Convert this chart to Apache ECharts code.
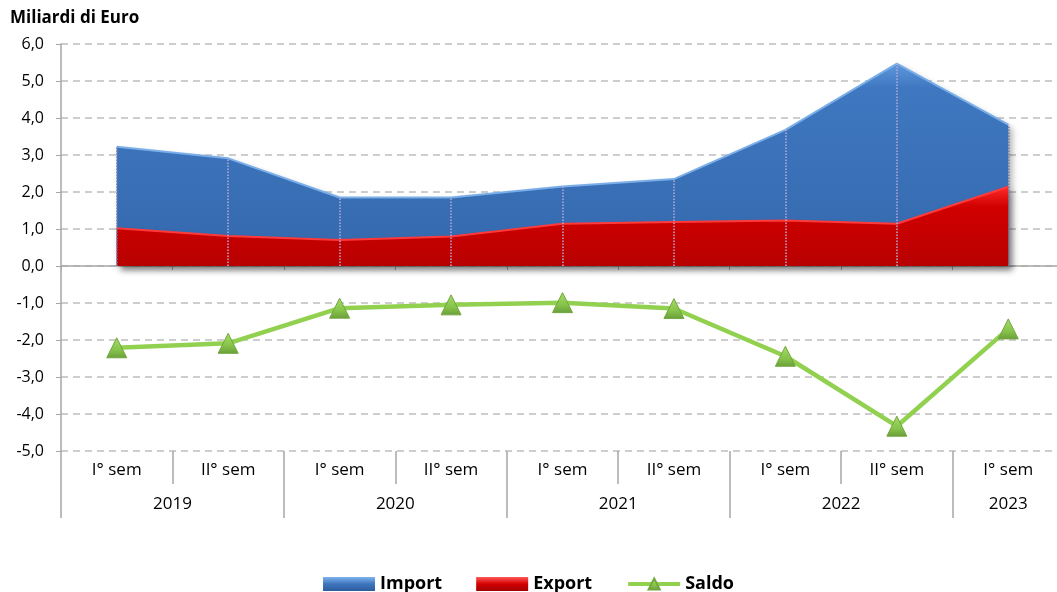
<!DOCTYPE html>
<html>
<head>
<meta charset="utf-8">
<script src="https://cdn.jsdelivr.net/npm/echarts@6/dist/echarts.min.js"></script>
<style>
  html, body { margin: 0; padding: 0; background: #fff; }
  #chart { width: 1057px; height: 592px; }
</style>
</head>
<body>
<div id="chart"></div>
<script>
// Semester categories and the years they belong to
const semesters = ['I° sem', 'II° sem', 'I° sem', 'II° sem', 'I° sem', 'II° sem', 'I° sem', 'II° sem', 'I° sem'];
const years = ['2019', '2020', '2021', '2022', '2023'];
const yearSpans = [2, 2, 2, 2, 1]; // number of semesters in each year

// Values in billions of euro
const importValues = [3.22, 2.91, 1.85, 1.85, 2.15, 2.35, 3.68, 5.47, 3.82];
const exportValues = [1.02, 0.81, 0.70, 0.80, 1.14, 1.19, 1.23, 1.14, 2.14];
const saldoValues  = [-2.21, -2.09, -1.14, -1.05, -0.99, -1.15, -2.44, -4.33, -1.70];

// Y axis range
const yMin = -5, yMax = 6, yStep = 1;

const FONT = '"Open Sans", Lato, sans-serif';
const AXIS_GREY = '#a6a6a6';

// Year boundaries and centres along the semester scale
const yearBounds = [0];
yearSpans.forEach(s => yearBounds.push(yearBounds[yearBounds.length - 1] + s));
const yearMids = yearSpans.map((s, i) => yearBounds[i] + s / 2);
const totalSemesters = yearBounds[yearBounds.length - 1];

const chart = echarts.init(document.getElementById('chart'), null, { renderer: 'canvas' });

const grad = (stops) => new echarts.graphic.LinearGradient(0, 0, 0, 1, stops);

const option = {
  animation: false,
  backgroundColor: '#ffffff',
  textStyle: { fontFamily: FONT },
  graphic: [{
    type: 'text',
    left: 10,
    top: 10,
    style: { text: 'Miliardi di Euro', font: 'bold 17px ' + FONT, fill: '#000' }
  }],
  legend: {
    top: 570,
    left: 'center',
    itemWidth: 52,
    itemHeight: 14,
    itemGap: 34,
    textStyle: { fontSize: 18, fontWeight: 'bold', color: '#000', fontFamily: FONT },
    data: [
      { name: 'Import', icon: 'rect' },
      { name: 'Export', icon: 'rect' },
      { name: 'Saldo', lineStyle: { width: 4 } }
    ]
  },
  // the last category band runs past the right edge of the canvas
  grid: { left: 61, width: 1003, top: 44, bottom: 141, containLabel: false, outerBoundsMode: 'none' },
  xAxis: [
    {
      // zero line carrying the data
      type: 'category',
      data: semesters,
      boundaryGap: true,
      axisLine: { show: true, onZero: true, lineStyle: { color: AXIS_GREY, width: 1.5 } },
      axisTick: { show: true, interval: 0, length: 4, lineStyle: { color: AXIS_GREY } },
      axisLabel: { show: false },
      splitLine: { show: false }
    },
    {
      // semester labels along the bottom
      type: 'category',
      data: semesters,
      position: 'bottom',
      boundaryGap: true,
      axisLine: { show: false, onZero: false },
      axisTick: { show: true, interval: 0, length: 33, lineStyle: { color: AXIS_GREY, width: 1.5 } },
      axisLabel: { interval: 0, margin: 11, fontSize: 17, color: '#000', fontFamily: FONT },
      splitLine: { show: false }
    },
    {
      // year labels spanning their semesters
      type: 'value',
      min: 0,
      max: totalSemesters,
      position: 'bottom',
      axisLine: { show: false, onZero: false },
      axisTick: { show: true, customValues: yearBounds, length: 67, lineStyle: { color: AXIS_GREY, width: 1.5 } },
      axisLabel: {
        customValues: yearMids,
        formatter: v => years[yearMids.indexOf(v)],
        margin: 45, fontSize: 17, color: '#000', fontFamily: FONT
      },
      splitLine: { show: false }
    }
  ],
  yAxis: {
    type: 'value',
    min: yMin,
    max: yMax,
    interval: yStep,
    axisLine: { show: true, lineStyle: { color: AXIS_GREY, width: 1.5 } },
    axisTick: { show: true, length: 5, lineStyle: { color: AXIS_GREY } },
    axisLabel: {
      formatter: v => v.toFixed(1).replace('.', ','),
      fontSize: 16, color: '#000', margin: 17, fontFamily: FONT
    },
    splitLine: { show: true, lineStyle: { type: [7, 5], color: '#bdbdbd', width: 1.5 } }
  },
  series: [
    {
      name: 'Import',
      type: 'line',
      xAxisIndex: 0,
      data: importValues,
      symbol: 'none',
      z: 2,
      itemStyle: { color: grad([{ offset: 0, color: '#7fb3ee' }, { offset: 0.5, color: '#3d75bd' }, { offset: 1, color: '#2d5c9c' }]) },
      lineStyle: { color: '#7aaee8', width: 2 },
      areaStyle: {
        color: grad([
          { offset: 0, color: '#5e97dc' },
          { offset: 0.12, color: '#3f78c0' },
          { offset: 1, color: '#3468ad' }
        ]),
        opacity: 1,
        shadowBlur: 6,
        shadowOffsetX: 4,
        shadowOffsetY: 4,
        shadowColor: 'rgba(0,0,0,0.3)'
      }
    },
    {
      name: 'Export',
      type: 'line',
      xAxisIndex: 0,
      data: exportValues,
      symbol: 'none',
      z: 3,
      itemStyle: { color: grad([{ offset: 0, color: '#ff5a5a' }, { offset: 0.5, color: '#d40000' }, { offset: 1, color: '#a00000' }]) },
      lineStyle: { color: '#ff3a3a', width: 2 },
      areaStyle: {
        color: grad([
          { offset: 0, color: '#ff2a2a' },
          { offset: 0.25, color: '#d10000' },
          { offset: 1, color: '#b80000' }
        ]),
        opacity: 1,
        shadowBlur: 6,
        shadowOffsetX: 4,
        shadowOffsetY: 4,
        shadowColor: 'rgba(0,0,0,0.3)'
      },
      // dotted drop lines from each import value down to zero
      markLine: {
        silent: true,
        symbol: ['none', 'none'],
        label: { show: false },
        lineStyle: { type: 'dotted', color: '#b7a9d8', width: 1.5 },
        data: importValues.map((v, i) => [
          { coord: [i, 0], lineStyle: (i === 0 || i === importValues.length - 1) ? { color: '#7a7aa8' } : undefined },
          { coord: [i, v] }
        ])
      }
    },
    {
      name: 'Saldo',
      type: 'line',
      xAxisIndex: 0,
      data: saldoValues,
      symbol: 'triangle',
      symbolSize: [20, 20],
      z: 5,
      itemStyle: {
        color: grad([{ offset: 0, color: '#a6dc68' }, { offset: 0.6, color: '#86c44a' }, { offset: 1, color: '#6a9e3a' }]),
        borderColor: '#73a640',
        borderWidth: 1
      },
      lineStyle: { color: '#92d050', width: 4.5 }
    }
  ]
};

chart.setOption(option);
</script>
</body>
</html>
